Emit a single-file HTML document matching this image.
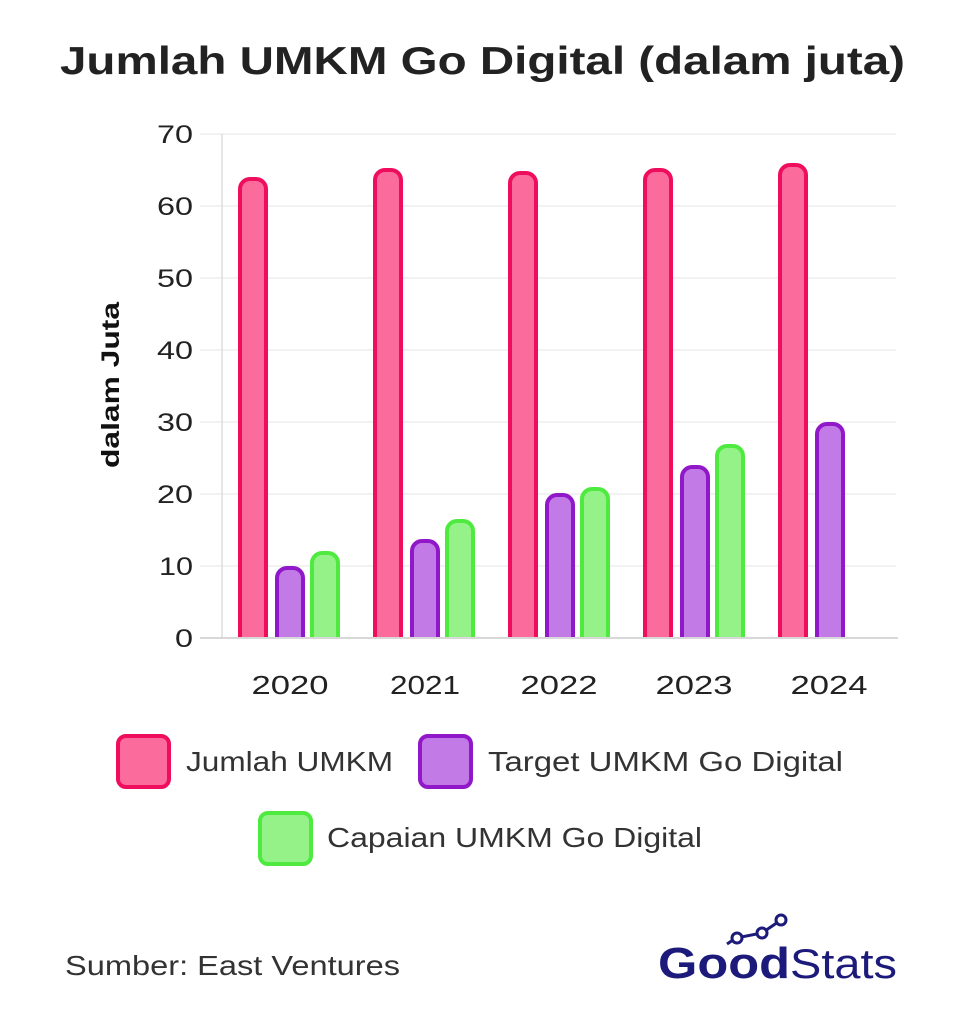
<!DOCTYPE html>
<html><head><meta charset="utf-8"><style>
html,body{margin:0;padding:0;background:#fff;}
svg{display:block;font-family:"Liberation Sans",sans-serif;}
</style></head><body>
<svg width="962" height="1024" viewBox="0 0 962 1024">
<rect width="962" height="1024" fill="#fff"/>
<text x="60" y="74" font-size="39" font-weight="bold" fill="#222" textLength="845" lengthAdjust="spacingAndGlyphs">Jumlah UMKM Go Digital (dalam juta)</text>
<g stroke="#eeeeee" stroke-width="1.5">
<line x1="200" x2="896" y1="134" y2="134"/><line x1="200" x2="896" y1="206" y2="206"/>
<line x1="200" x2="896" y1="278" y2="278"/><line x1="200" x2="896" y1="350" y2="350"/>
<line x1="200" x2="896" y1="422" y2="422"/><line x1="200" x2="896" y1="494" y2="494"/>
<line x1="200" x2="896" y1="566" y2="566"/>
</g>
<line x1="222" x2="222" y1="134" y2="638" stroke="#ddd" stroke-width="1.5"/>
<line x1="200" x2="898" y1="638" y2="638" stroke="#ccc" stroke-width="1.5"/>
<g font-size="25" fill="#222" text-anchor="end">
<text x="193" y="143" textLength="36" lengthAdjust="spacingAndGlyphs">70</text><text x="193" y="215" textLength="36" lengthAdjust="spacingAndGlyphs">60</text><text x="193" y="287" textLength="36" lengthAdjust="spacingAndGlyphs">50</text>
<text x="193" y="359" textLength="36" lengthAdjust="spacingAndGlyphs">40</text><text x="193" y="431" textLength="36" lengthAdjust="spacingAndGlyphs">30</text><text x="193" y="503" textLength="36" lengthAdjust="spacingAndGlyphs">20</text>
<text x="193" y="575" textLength="34" lengthAdjust="spacingAndGlyphs">10</text><text x="193" y="647" textLength="18" lengthAdjust="spacingAndGlyphs">0</text>
</g>
<text transform="translate(119,385) rotate(-90)" text-anchor="middle" font-size="25" font-weight="bold" fill="#111" textLength="166" lengthAdjust="spacingAndGlyphs">dalam Juta</text>
<g stroke-width="4">
<g fill="#fb6b9c" stroke="#ef0e5e">
<path d="M240,637 V189 a10,10 0 0 1 10,-10 h6 a10,10 0 0 1 10,10 V637"/>
<path d="M375,637 V180 a10,10 0 0 1 10,-10 h6 a10,10 0 0 1 10,10 V637"/>
<path d="M510,637 V183 a10,10 0 0 1 10,-10 h6 a10,10 0 0 1 10,10 V637"/>
<path d="M645,637 V180 a10,10 0 0 1 10,-10 h6 a10,10 0 0 1 10,10 V637"/>
<path d="M780,637 V175 a10,10 0 0 1 10,-10 h6 a10,10 0 0 1 10,10 V637"/>
</g>
<g fill="#c17ae6" stroke="#9118c9">
<path d="M277,637 V578 a10,10 0 0 1 10,-10 h6 a10,10 0 0 1 10,10 V637"/>
<path d="M412,637 V551 a10,10 0 0 1 10,-10 h6 a10,10 0 0 1 10,10 V637"/>
<path d="M547,637 V505 a10,10 0 0 1 10,-10 h6 a10,10 0 0 1 10,10 V637"/>
<path d="M682,637 V477 a10,10 0 0 1 10,-10 h6 a10,10 0 0 1 10,10 V637"/>
<path d="M817,637 V434 a10,10 0 0 1 10,-10 h6 a10,10 0 0 1 10,10 V637"/>
</g>
<g fill="#94f288" stroke="#4fea3f">
<path d="M312,637 V563 a10,10 0 0 1 10,-10 h6 a10,10 0 0 1 10,10 V637"/>
<path d="M447,637 V531 a10,10 0 0 1 10,-10 h6 a10,10 0 0 1 10,10 V637"/>
<path d="M582,637 V499 a10,10 0 0 1 10,-10 h6 a10,10 0 0 1 10,10 V637"/>
<path d="M717,637 V456 a10,10 0 0 1 10,-10 h6 a10,10 0 0 1 10,10 V637"/>
</g>
</g>
<g font-size="26" fill="#222" text-anchor="middle">
<text x="290" y="694" textLength="77" lengthAdjust="spacingAndGlyphs">2020</text><text x="425" y="694" textLength="70" lengthAdjust="spacingAndGlyphs">2021</text><text x="559" y="694" textLength="77" lengthAdjust="spacingAndGlyphs">2022</text>
<text x="694" y="694" textLength="77" lengthAdjust="spacingAndGlyphs">2023</text><text x="829" y="694" textLength="77" lengthAdjust="spacingAndGlyphs">2024</text>
</g>
<g stroke-width="4">
<rect x="118" y="736" width="51" height="51" rx="8" fill="#fb6b9c" stroke="#ef0e5e"/>
<rect x="420" y="736" width="51" height="51" rx="8" fill="#c17ae6" stroke="#9118c9"/>
<rect x="260" y="813" width="51" height="51" rx="8" fill="#94f288" stroke="#4fea3f"/>
</g>
<g font-size="28" fill="#333">
<text x="186" y="771" textLength="207" lengthAdjust="spacingAndGlyphs">Jumlah UMKM</text>
<text x="488" y="771" textLength="355" lengthAdjust="spacingAndGlyphs">Target UMKM Go Digital</text>
<text x="327" y="847" textLength="375" lengthAdjust="spacingAndGlyphs">Capaian UMKM Go Digital</text>
<text x="65" y="975" textLength="335" lengthAdjust="spacingAndGlyphs">Sumber: East Ventures</text>
</g>
<g stroke="#1c1a7a" stroke-width="3" fill="#fff">
<polyline points="727,944 736,938 762,933 781,920" fill="none"/>
<circle cx="737" cy="938" r="5"/><circle cx="762" cy="933" r="5"/><circle cx="781" cy="920" r="5"/>
</g>
<text x="658" y="978" font-size="44" font-weight="bold" fill="#1c1a7a" textLength="132" lengthAdjust="spacingAndGlyphs">Good</text>
<text x="790" y="978" font-size="42" fill="#1c1a7a" textLength="107" lengthAdjust="spacingAndGlyphs">Stats</text>
</svg>
</body></html>
